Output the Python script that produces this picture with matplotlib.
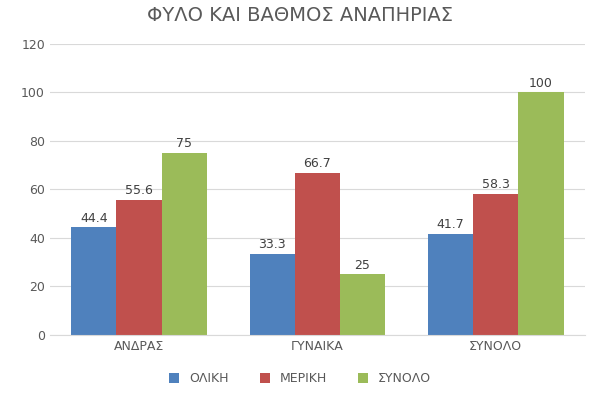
import numpy as np
import matplotlib.pyplot as plt

categories = ['ΑΝΔΡΑΣ', 'ΓΥΝΑΙΚΑ', 'ΣΥΝΟΛΟ']
series_names = ['ΟΛΙΚΗ', 'ΜΕΡΙΚΗ', 'ΣΥΝΟΛΟ']
olikh = [44.4, 33.3, 41.7]
merikh = [55.6, 66.7, 58.3]
synolo = [75, 25, 100]
colors = ['#4F81BD', '#C0504D', '#9BBB59']

fig = plt.figure(figsize=(6, 4.11), dpi=100)
ax = fig.add_axes([0.083, 0.185, 0.892, 0.708])

x = np.arange(len(categories))
w = 0.253
for i, (vals, name, c) in enumerate(zip([olikh, merikh, synolo], series_names, colors)):
    bars = ax.bar(x + (i - 1) * w, vals, w, color=c, label=name)
    ax.bar_label(bars, labels=[f'{v:g}' for v in vals], padding=2, fontsize=9, color='#404040')

ax.set_xlim(-0.5, 2.5)
ax.set_ylim(0, 120)
ax.set_yticks(range(0, 121, 20))
ax.set_xticks(x)
ax.set_xticklabels(categories)
ax.tick_params(length=0, labelsize=9, colors='#595959')
ax.yaxis.grid(True, color='#D9D9D9', linewidth=0.8)
ax.set_axisbelow(True)
for s in ['top', 'right', 'left']:
    ax.spines[s].set_visible(False)
ax.spines['bottom'].set_color('#D9D9D9')

fig.suptitle('ΦΥΛΟ ΚΑΙ ΒΑΘΜΟΣ ΑΝΑΠΗΡΙΑΣ', y=0.985, fontsize=14, color='#595959')
fig.legend(loc='lower center', ncol=3, frameon=False, fontsize=9,
           bbox_to_anchor=(0.5, 0.035), handlelength=0.8, handleheight=0.8,
           labelcolor='#595959', columnspacing=2.5)
fig.savefig('out.png')
